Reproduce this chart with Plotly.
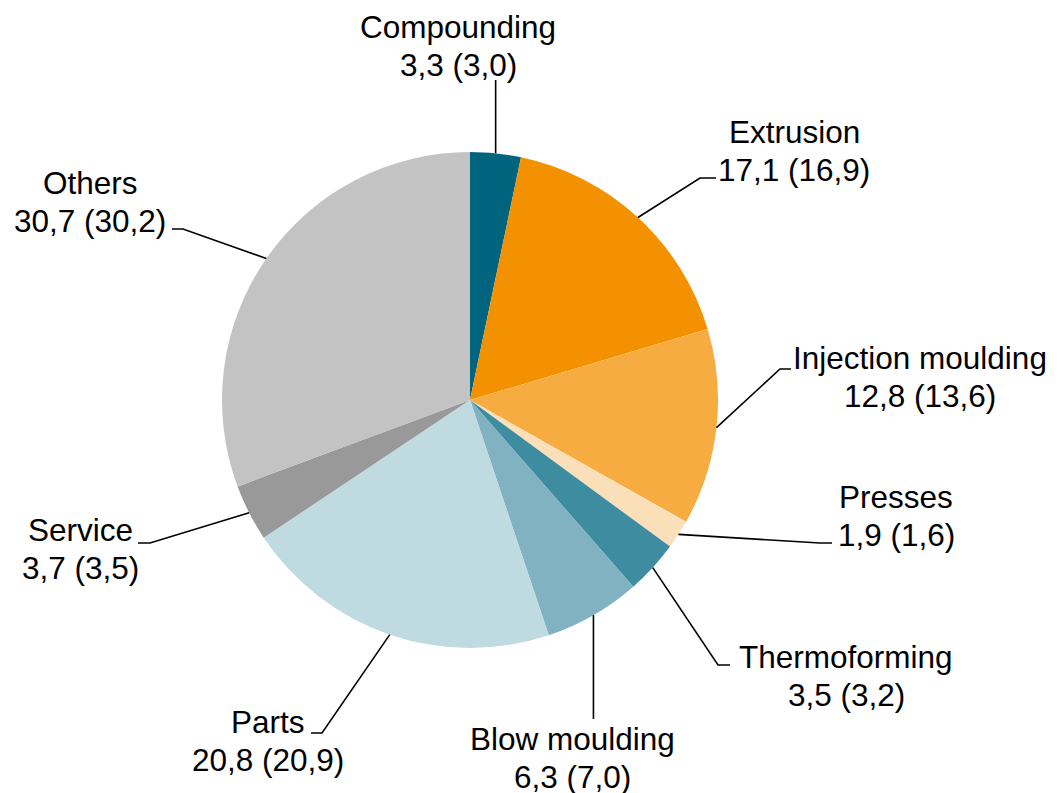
import math
import plotly.graph_objects as go

# ---- data ----
categories = ["Compounding", "Extrusion", "Injection moulding", "Presses", "Thermoforming",
              "Blow moulding", "Parts", "Service", "Others"]
values_current = [3.3, 17.1, 12.8, 1.9, 3.5, 6.3, 20.8, 3.7, 30.7]
values_previous = [3.0, 16.9, 13.6, 1.6, 3.2, 7.0, 20.9, 3.5, 30.2]
colors = ["#00647F", "#F39100", "#F6AC40", "#FBDFB8", "#3E8CA0",
          "#80B2C2", "#C0DAE1", "#999999", "#C3C3C3"]

# ---- layout (screen-pixel positions of the label text and leader-line elbows) ----
OFF = 8                      # page body margin of the html output
W, H = 1058, 793             # figure size
CX, CY, R = 470, 400, 248    # pie centre / radius in screen pixels
# label centre x, first-line centre y, elbow x, elbow y, line end x
label_layout = [
    (458, 27, None, 80, None),
    (794, 132, 700, 178, 716),
    (920, 358, 780, 369, 791),
    (896, 497, 820, 543, 832),
    (846, 657, 718, 665, 730),
    (572, 739, None, 719, None),
    (268, 722, 322, 733, 311),
    (80, 530, 150, 543, 138),
    (90, 183, 183, 229, 172),
]
LINE_GAP = 38
FONT = "Liberation Sans, Arial, sans-serif"
FSIZE = 31.5


def fmt(v):
    return f"{v:.1f}".replace(".", ",")


def px(x):
    return (x - OFF) / W


def py(y):
    return 1 - (y - OFF) / H


fig = go.Figure(go.Pie(
    labels=categories,
    values=values_current,
    sort=False,
    direction="clockwise",
    rotation=0,
    marker=dict(colors=colors, line=dict(width=0)),
    textinfo="none",
    hoverinfo="label+value",
    showlegend=False,
    domain=dict(x=[px(CX - R), px(CX + R)], y=[py(CY + R), py(CY - R)]),
))

total = sum(values_current)
annotations = []
shapes = []
cum = 0.0
for name, cur, prev, lay in zip(categories, values_current, values_previous, label_layout):
    mid = (cum + cur / 2) / total * 2 * math.pi
    cum += cur
    sx = CX + R * math.sin(mid)
    sy = CY - R * math.cos(mid)
    lx, ly, ex, ey, endx = lay
    if ex is None:
        ex = sx
    if endx is None:
        endx = ex
    path = f"M {px(sx)},{py(sy)} L {px(ex)},{py(ey)} L {px(endx)},{py(ey)}"
    shapes.append(dict(type="path", xref="paper", yref="paper", path=path,
                       line=dict(color="black", width=1.6)))
    for i, txt in enumerate([name, f"{fmt(cur)} ({fmt(prev)})"]):
        annotations.append(dict(
            x=px(lx), y=py(ly + i * LINE_GAP), xref="paper", yref="paper",
            text=txt, showarrow=False, xanchor="center", yanchor="middle",
            font=dict(family=FONT, size=FSIZE, color="black"),
        ))

fig.update_layout(
    width=W, height=H,
    margin=dict(l=0, r=0, t=0, b=0),
    paper_bgcolor="white", plot_bgcolor="white",
    annotations=annotations, shapes=shapes,
)

fig.write_html("out.html")
